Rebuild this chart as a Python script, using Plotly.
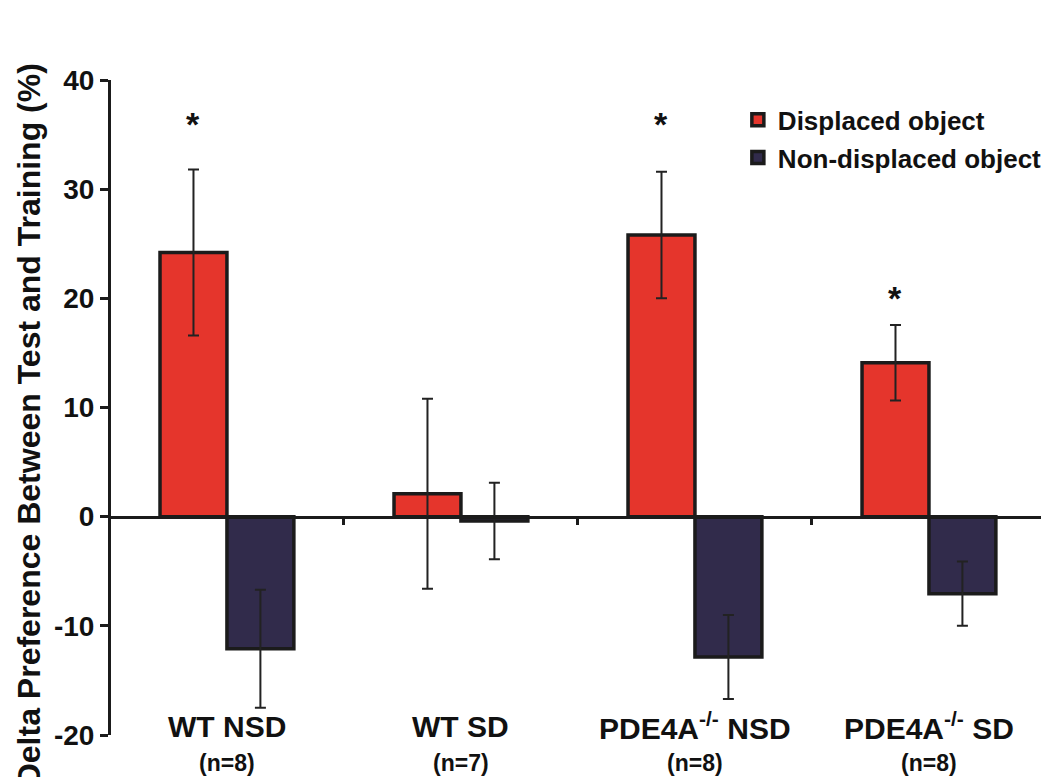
import plotly.graph_objects as go

# ---- data ----
groups = ["WT NSD", "WT SD", "PDE4A<sup>-/-</sup> NSD", "PDE4A<sup>-/-</sup> SD"]
n_labels = ["(n=8)", "(n=7)", "(n=8)", "(n=8)"]
displaced = [24.2, 2.1, 25.8, 14.1]
displaced_err = [7.6, 8.7, 5.8, 3.45]
nondisplaced = [-12.1, -0.4, -12.85, -7.05]
nondisplaced_err = [5.4, 3.5, 3.85, 2.95]
star_y = [36.2, None, 36.2, 20.3]

y_min, y_max = -20, 40
y_ticks = [-20, -10, 0, 10, 20, 30, 40]

RED = "#E5352C"
NAVY = "#312B4B"
EDGE = "#1b1b1b"
FONT = "Liberation Sans, Arial, sans-serif"

xpos = list(range(len(groups)))

fig = go.Figure()
fig.add_trace(go.Bar(
    x=xpos, y=displaced, name="<b>Displaced object</b>", legendgroup="a",
    marker=dict(color=RED, line=dict(color=EDGE, width=3.5)),
    error_y=dict(type="data", array=displaced_err, color="#222", thickness=2, width=5.5),
))
fig.add_trace(go.Bar(
    x=xpos, y=nondisplaced, name="<b>Non-displaced object</b>", legendgroup="b",
    marker=dict(color=NAVY, line=dict(color=EDGE, width=3.5)),
    error_y=dict(type="data", array=nondisplaced_err, color="#222", thickness=2, width=5.5),
))

bargap = 0.428
bar_w = (1 - bargap) / 2

annotations = []
for i, g in enumerate(groups):
    annotations.append(dict(
        x=i, xref="x", y=0.0137, yref="paper", text=f"<b>{g}</b>",
        showarrow=False, xanchor="center", yanchor="middle",
        font=dict(family=FONT, size=30, color="#111"),
    ))
    annotations.append(dict(
        x=i, xref="x", y=-0.0427, yref="paper", text=f"<b>{n_labels[i]}</b>",
        showarrow=False, xanchor="center", yanchor="middle",
        font=dict(family=FONT, size=23, color="#111"),
    ))
    if star_y[i] is not None:
        annotations.append(dict(
            x=i - bar_w / 2, xref="x", y=star_y[i], yref="y", text="<b>*</b>",
            showarrow=False, xanchor="center", yanchor="middle", yshift=-3,
            font=dict(family=FONT, size=34, color="#111"),
        ))

annotations.append(dict(
    x=-0.085, xref="paper", y=0.473, yref="paper",
    text="<b>Delta Preference Between Test and Training (%)</b>",
    textangle=-90, showarrow=False, xanchor="center", yanchor="middle",
    font=dict(family=FONT, size=32, color="#111"),
))

# page body has an 8px default margin; compensate so the plot lands where the reference has it
fig.update_layout(
    width=1041, height=769,
    margin=dict(l=101, r=0, t=72, b=42),
    paper_bgcolor="white", plot_bgcolor="white",
    barmode="group", bargap=bargap, bargroupgap=0,
    showlegend=True,
    legend=dict(
        x=0.669, y=0.975, xanchor="left", yanchor="top",
        font=dict(family=FONT, size=26, color="#111"),
        bgcolor="rgba(0,0,0,0)", tracegroupgap=1,
    ),
    xaxis=dict(
        range=[-0.504, len(groups) - 1 + 0.513],
        anchor="free", position=(0 - y_min) / (y_max - y_min),
        showline=True, linecolor=EDGE, linewidth=3,
        ticks="outside", tickvals=[i + 0.5 for i in xpos[:-1]],
        ticklen=6, tickwidth=3, tickcolor=EDGE,
        showticklabels=False, showgrid=False, zeroline=False,
    ),
    yaxis=dict(
        range=[y_min, y_max], tickvals=y_ticks,
        ticktext=[f"<b>{t}</b>" for t in y_ticks],
        showline=True, linecolor=EDGE, linewidth=3,
        ticks="outside", ticklen=8, tickwidth=3, tickcolor=EDGE,
        tickfont=dict(family=FONT, size=28, color="#111"),
        showgrid=False, zeroline=False, anchor="free", position=0,
    ),
    annotations=annotations,
)

fig.write_html("out.html")
